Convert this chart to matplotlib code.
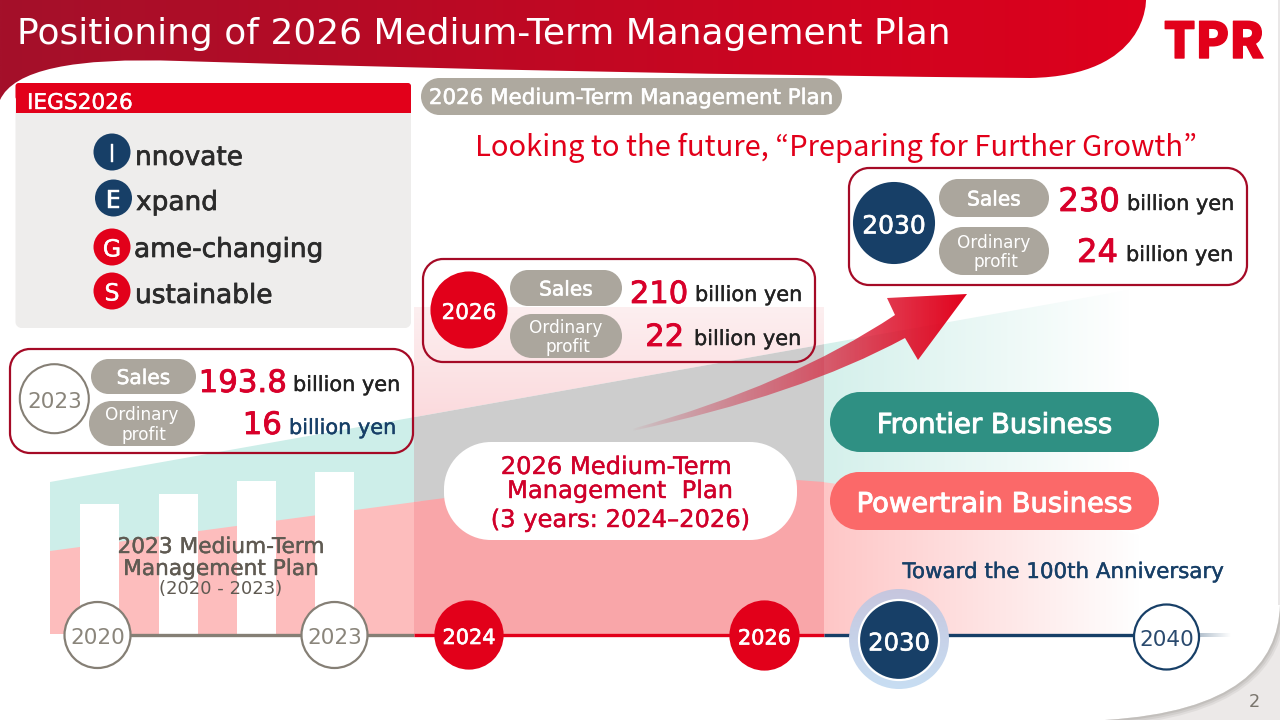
import matplotlib
matplotlib.use('Agg')
import matplotlib.pyplot as plt
import matplotlib.patheffects as pe
import numpy as np
from matplotlib.colors import to_rgb
from matplotlib.patches import Circle, PathPatch, Rectangle
from matplotlib.path import Path

# slide content
title = 'Positioning of 2026 Medium-Term Management Plan'
iegs_letters = ['I', 'E', 'G', 'S']
iegs_words = ['nnovate', 'xpand', 'ame-changing', 'ustainable']
iegs_colors = ['#173F67', '#173F67', '#E2001A', '#E2001A']
plan_years = ['2023', '2026', '2030']
plan_sales = ['193.8', '210', '230']
plan_profit = ['16', '22', '24']
bar_years = [2020, 2021, 2022, 2023]
bar_values = [130, 140, 153, 162]
timeline_years = ['2020', '2023', '2024', '2026', '2030', '2040']

RED = '#E2001A'
NUM_RED = '#D8002A'
NAVY = '#173F67'
GREY = '#ABA69D'
LINE_GREY = '#857F75'
FONT = 'DejaVu Sans'

fig = plt.figure(figsize=(12.8, 7.2), dpi=100, facecolor='white')
ax = fig.add_axes([0, 0, 1, 1])
ax.set_xlim(0, 1280)
ax.set_ylim(720, 0)
ax.axis('off')


def grad_fill(patch, x0, x1, y0, y1, c0, c1, a0=1.0, a1=1.0, vertical=False, z=1, power=1.0):
    # gradient image clipped to a patch
    n = 256
    t = np.linspace(0, 1, n)
    rgba = np.zeros((n, 1, 4)) if vertical else np.zeros((1, n, 4))
    c0, c1 = np.array(to_rgb(c0)), np.array(to_rgb(c1))
    vals = np.outer(1 - t, c0) + np.outer(t, c1)
    alph = a0 + (a1 - a0) * t ** power
    if vertical:
        rgba[:, 0, :3] = vals
        rgba[:, 0, 3] = alph
    else:
        rgba[0, :, :3] = vals
        rgba[0, :, 3] = alph
    patch.set_transform(ax.transData)
    im = ax.imshow(rgba, extent=[x0, x1, y1, y0], aspect='auto', zorder=z, interpolation='bilinear')
    im.set_clip_path(patch)
    ax.set_xlim(0, 1280)
    ax.set_ylim(720, 0)


def poly(points):
    return PathPatch(Path(points + [points[0]]), fc='none', ec='none')


def round_path(x0, y0, x1, y1, r):
    # rounded rectangle with true circular corners
    k = 0.5523 * r
    verts = [(x0 + r, y0), (x1 - r, y0), (x1 - r + k, y0), (x1, y0 + r - k), (x1, y0 + r),
             (x1, y1 - r), (x1, y1 - r + k), (x1 - r + k, y1), (x1 - r, y1),
             (x0 + r, y1), (x0 + r - k, y1), (x0, y1 - r + k), (x0, y1 - r),
             (x0, y0 + r), (x0, y0 + r - k), (x0 + r - k, y0), (x0 + r, y0)]
    codes = [Path.MOVETO, Path.LINETO, Path.CURVE4, Path.CURVE4, Path.CURVE4,
             Path.LINETO, Path.CURVE4, Path.CURVE4, Path.CURVE4,
             Path.LINETO, Path.CURVE4, Path.CURVE4, Path.CURVE4,
             Path.LINETO, Path.CURVE4, Path.CURVE4, Path.CURVE4]
    return Path(verts, codes)


def pill(x0, y0, x1, y1, color, z=5, r=None):
    r = (y1 - y0) / 2 if r is None else r
    ax.add_patch(PathPatch(round_path(x0, y0, x1, y1, r), fc=color, ec='none', zorder=z))


def label(x, y, s, size, color, ha='left', weight='normal', z=8, family=FONT, va='baseline', stroke=0):
    t = ax.text(x, y, s, fontsize=size, color=color, ha=ha, va=va, fontweight=weight, family=family, zorder=z)
    if stroke:
        t.set_path_effects([pe.withStroke(linewidth=stroke, foreground=color)])
    return t


# corner shadow bottom right
corner_curve = Path([(1280, 605), (1278, 665), (1235, 712), (1105, 720)], [Path.MOVETO, Path.CURVE4, Path.CURVE4, Path.CURVE4])
corner = PathPatch(Path([(1280, 605), (1278, 665), (1235, 712), (1105, 720), (1280, 720), (1280, 605)],
                        [Path.MOVETO, Path.CURVE4, Path.CURVE4, Path.CURVE4, Path.LINETO, Path.CLOSEPOLY]),
                   fc='#ECE9E8', ec='none', zorder=0.5, transform=ax.transData)
ax.add_patch(corner)
for w, a in [(9, 0.18), (6, 0.25), (3, 0.35)]:
    sh = PathPatch(corner_curve, fc='none', ec='#A8A5A0', lw=w, alpha=a, zorder=0.6)
    ax.add_patch(sh)
    sh.set_clip_path(corner)
ax.add_patch(Rectangle((1278, 0), 2, 605, fc='#E9E7E7', ec='none', zorder=0.5))

# header band
header_verts = [(0, 0), (1146, 0), (1146, 0), (1148, 76), (1030, 78), (1030, 78), (600, 74), (180, 61),
                (180, 61), (20, 55), (0, 100), (0, 0)]
header_codes = [Path.MOVETO, Path.LINETO, Path.CURVE4, Path.CURVE4, Path.CURVE4, Path.LINETO, Path.CURVE3,
                Path.CURVE3, Path.LINETO, Path.CURVE3, Path.CURVE3, Path.CLOSEPOLY]
header = PathPatch(Path(header_verts, header_codes), fc='none', ec='none')
grad_fill(header, 0, 1150, 0, 130, '#A4102A', '#DE001C', z=1)
label(17, 44, title, 25.9, 'white')

# logo
label(1214, 58, 'TPR', 35.5, RED, ha='center', weight=900, family='Noto Sans CJK JP', stroke=1)

# background bands: teal upper, pink lower
teal_top = lambda x: 482 - 0.178 * (x - 50)

grad_teal = poly([(822, teal_top(822)), (1130, teal_top(1130)), (1130, 634), (822, 634)])
grad_fill(grad_teal, 822, 1130, 280, 640, '#D4F0EB', '#FFFFFF', z=1)
ax.fill([50, 415, 415, 50], [teal_top(50), teal_top(415), 634, 634], color='#CDEEE9', lw=0, zorder=1.1)
ax.fill([50, 415, 415, 50], [551, 502, 634, 634], color='#FDBDBD', lw=0, zorder=1.2)

# centre panel
upper = poly([(414, 307), (824, 307), (824, teal_top(824)), (414, teal_top(414))])
grad_fill(upper, 414, 824, 307, 420, '#FDEFF0', '#FBDADD', vertical=True, z=1.3)
ax.fill([414, 824, 824, 414], [teal_top(414), teal_top(824), 482, 502], color='#CDCDCD', lw=0, zorder=1.3)
ax.fill([414, 445, 600, 797, 824, 824, 414], [502, 498, 488, 480, 482, 634, 634], color='#F9A6A9', lw=0, zorder=1.35)

# right pink fade
grad_pink = poly([(822, 482), (1010, 506), (1160, 540), (1215, 560), (1215, 634), (822, 634)])
grad_fill(grad_pink, 822, 1140, 480, 640, '#FEC6C6', '#FFFFFF', z=1.2)

# plan bars
bar_centers = [99.5, 178.5, 256.5, 334.5]
ax.bar(bar_centers, [-v for v in bar_values], bottom=634, width=39, color='white', lw=0, zorder=2)

label(221, 553, '2023 Medium-Term', 15.6, '#5F5A52', ha='center', z=3, stroke=0.3)
label(221, 575, 'Management Plan', 15.6, '#5F5A52', ha='center', z=3, stroke=0.3)
label(221, 594, '(2020 - 2023)', 13, '#5F5A52', ha='center', z=3)

# IEGS box
pill(15.5, 83, 411, 328, '#EEEDEC', z=3, r=6)
pill(15.5, 83, 411, 100, RED, z=3.1, r=3)
ax.add_patch(Rectangle((15.5, 90), 395.5, 23, fc=RED, ec='none', zorder=3.1))
label(27, 109, 'IEGS2026', 15.6, 'white', z=4, stroke=0.3)
iegs_cx = [112, 113.5, 112, 112]
iegs_cy = [152, 198, 247, 291]
iegs_base = [165, 210, 257, 303]
iegs_x = [135, 136, 134, 135]
for letter, word, col, cx, cy, base, tx in zip(iegs_letters, iegs_words, iegs_colors, iegs_cx, iegs_cy, iegs_base, iegs_x):
    ax.add_patch(Circle((cx, cy), 18.5, fc=col, ec='none', zorder=5))
    label(cx, cy, letter, 17, 'white', ha='center', va='center_baseline', stroke=0.3)
    label(tx, base, word, 19, '#2B2B2B', stroke=0.5)

# plan header pill and headline
pill(421, 78, 842, 115, '#AEA99F', z=3)
label(631, 104, '2026 Medium-Term Management Plan', 15.4, 'white', ha='center', z=4, stroke=0.4)
label(475, 156, 'Looking to the future, \u201cPreparing for Further Growth\u201d', 21, RED,
      family='Noto Sans CJK JP', z=4)

# KPI boxes
box_rects = [(10, 349, 413, 453), (423, 259, 815, 362), (849, 168, 1247, 285)]
circle_xyr = [(54.3, 398.7, 34.5), (469, 310, 37.5), (894, 223, 40)]
sales_pills = [(91, 359, 196, 394), (510, 270, 622, 306), (939, 179, 1049, 217)]
profit_pills = [(89, 401, 195, 446), (510, 314, 622, 358), (939, 227, 1049, 275)]
sales_xy = [(287, 392), (688, 303), (1120, 211)]
profit_xy = [(282, 434), (684, 346), (1118, 262)]
sales_unit_xy = [(293, 391), (695, 301), (1127, 210)]
profit_unit_xy = [(289, 434), (694, 345), (1126, 261)]
circle_styles = [('white', LINE_GREY, '#8A857B'), (RED, RED, 'white'), (NAVY, NAVY, 'white')]
year_sizes = [15.5, 15.5, 18]
num_sizes = [22.2, 22, 23.2]
for i in range(3):
    x0, y0, x1, y1 = box_rects[i]
    ax.add_patch(PathPatch(round_path(x0, y0, x1, y1, 20), fc='none', ec='#A50A26', lw=1.6, zorder=6))
    cx, cy, cr = circle_xyr[i]
    fc, ec, tc = circle_styles[i]
    ax.add_patch(Circle((cx, cy), cr, fc=fc, ec=ec, lw=1.5, zorder=6))
    label(cx, cy + 1, plan_years[i], year_sizes[i], tc, ha='center', va='center_baseline', stroke=0 if i == 0 else 0.4)
    a, b, c, d = sales_pills[i]
    pill(a, b, c, d, GREY, z=6)
    label((a + c) / 2, (b + d) / 2, 'Sales', 14.5, 'white', ha='center', va='center_baseline', stroke=0.4)
    a, b, c, d = profit_pills[i]
    pill(a, b, c, d, GREY, z=6)
    label((a + c) / 2, (b + d) / 2 - 10, 'Ordinary', 12.2, 'white', ha='center', va='center_baseline')
    label((a + c) / 2 + 2, (b + d) / 2 + 9, 'profit', 12.2, 'white', ha='center', va='center_baseline')
    label(sales_xy[i][0], sales_xy[i][1], plan_sales[i], num_sizes[i], NUM_RED, ha='right', stroke=0.6)
    label(profit_xy[i][0], profit_xy[i][1], plan_profit[i], num_sizes[i], NUM_RED, ha='right', stroke=0.6)
    label(sales_unit_xy[i][0], sales_unit_xy[i][1], 'billion yen', 15, '#222222', stroke=0.3)
    label(profit_unit_xy[i][0], profit_unit_xy[i][1], 'billion yen', 15, NAVY if i == 0 else '#222222', stroke=0.3)

# arrow
arrow_verts = [(632, 431), (800, 395), (905, 338), (918, 360), (967, 294), (887, 298), (895, 315),
               (790, 385), (632, 429), (632, 431)]
arrow_codes = [Path.MOVETO, Path.CURVE3, Path.CURVE3, Path.LINETO, Path.LINETO, Path.LINETO, Path.LINETO,
               Path.CURVE3, Path.CURVE3, Path.CLOSEPOLY]
arrow = PathPatch(Path(arrow_verts, arrow_codes), fc='none', ec='none')
grad_fill(arrow, 632, 970, 290, 435, '#C8324E', '#E2001A', a0=0.0, a1=1.0, z=4, power=0.7)

# centre label
pill(444, 442, 797, 540, 'white', z=5, r=47)
label(616, 474, '2026 Medium-Term', 17.4, '#D0002A', ha='center', stroke=0.3)
label(620, 498, 'Management  Plan', 17.4, '#D0002A', ha='center', stroke=0.3)
label(620, 527, '(3 years: 2024\u20132026)', 17.4, '#D0002A', ha='center', stroke=0.3)

# business pills
pill(830, 392, 1159, 452, '#2F9083', z=5)
label(995, 433, 'Frontier Business', 19.8, 'white', ha='center', stroke=0.7)
pill(830, 472, 1159, 530, '#FB6969', z=5)
label(995, 512, 'Powertrain Business', 19.7, 'white', ha='center', stroke=0.7)
label(1063, 578, 'Toward the 100th Anniversary', 15.4, NAVY, ha='center', z=6, stroke=0.3)

# timeline
ax.plot([64, 414], [635, 635], color=LINE_GREY, lw=2.4, zorder=5, solid_capstyle='butt')
ax.plot([414, 824], [635, 635], color=RED, lw=2.4, zorder=5, solid_capstyle='butt')
ax.plot([824, 1135], [635, 635], color=NAVY, lw=2.4, zorder=5, solid_capstyle='butt')
fade = Rectangle((1135, 633.3), 96, 3.4, fc='none', ec='none')
grad_fill(fade, 1135, 1231, 633, 637, NAVY, '#FFFFFF', z=5)

node_xy = [(97.5, 635, 33), (334.5, 635, 33), (469, 635, 33.5), (764.5, 635.5, 34), (899, 640, 40), (1166.5, 637, 32.5)]
node_styles = [('white', LINE_GREY, '#8A857B'), ('white', LINE_GREY, '#8A857B'), (RED, RED, 'white'), (RED, RED, 'white'),
               (NAVY, 'white', 'white'), ('white', NAVY, '#2A4A6E')]
node_sizes = [15.6, 15.6, 15, 15, 17.5, 15.6]
node_strokes = [0, 0, 0.5, 0.5, 0.4, 0]

ring = Circle((899, 639), 50, fc='none', ec='none')
grad_fill(ring, 849, 949, 589, 689, '#C6C6DE', '#C8DEF3', vertical=True, z=6)

for yr, (cx, cy, r), (fc, ec, tc), sz, st in zip(timeline_years, node_xy, node_styles, node_sizes, node_strokes):
    ax.add_patch(Circle((cx, cy), r, fc=fc, ec=ec, lw=1.6, zorder=7))
    label(cx, cy + 1, yr, sz, tc, ha='center', va='center_baseline', stroke=st)

label(1254.5, 707, '2', 12.8, '#7A756D', ha='center')

fig.savefig('out.png', dpi=100)
